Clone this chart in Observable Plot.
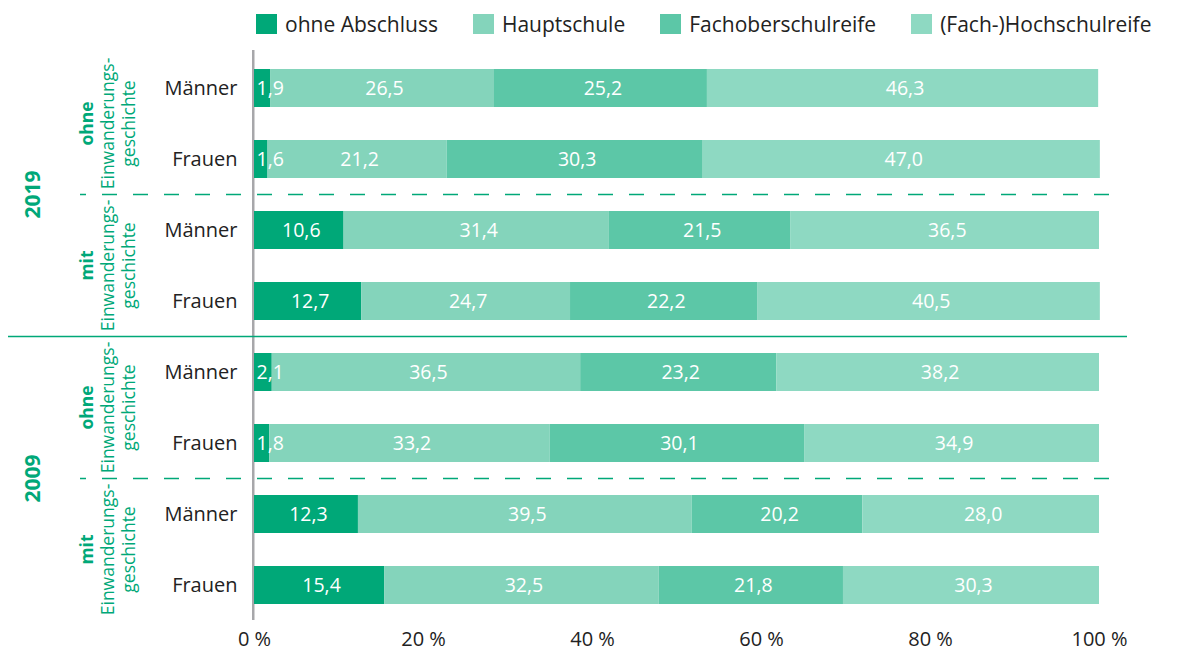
<!DOCTYPE html>
<html><head><meta charset="utf-8">
<script src="https://cdn.jsdelivr.net/npm/d3@7"></script>
<script src="https://cdn.jsdelivr.net/npm/@observablehq/plot@0.6"></script>
<style>
body{margin:0;background:#fff;font-family:"Open Sans",sans-serif;}
#legend{display:flex;align-items:center;height:48px;padding-left:256px;box-sizing:border-box;font-size:21px;color:#222;}
.item{display:flex;align-items:center;margin-right:35px;white-space:nowrap;}
.sw{width:21px;height:20px;margin-right:8px;}
#chart svg{display:block;}
</style></head><body>
<div id="legend"></div><div id="chart"></div>
<script>
const categories = ["ohne Abschluss", "Hauptschule", "Fachoberschulreife", "(Fach-)Hochschulreife"];
const colors = ["#00a878", "#84d4bb", "#5cc7a7", "#8ed9c2"];
const years = ["2019", "2019", "2019", "2019", "2009", "2009", "2009", "2009"];
const groups = ["ohne", "ohne", "mit", "mit", "ohne", "ohne", "mit", "mit"];
const sexes = ["Männer", "Frauen", "Männer", "Frauen", "Männer", "Frauen", "Männer", "Frauen"];
const ohneAbschluss = [1.9, 1.6, 10.6, 12.7, 2.1, 1.8, 12.3, 15.4];
const hauptschule = [26.5, 21.2, 31.4, 24.7, 36.5, 33.2, 39.5, 32.5];
const fachoberschulreife = [25.2, 30.3, 21.5, 22.2, 23.2, 30.1, 20.2, 21.8];
const hochschulreife = [46.3, 47.0, 36.5, 40.5, 38.2, 34.9, 28.0, 30.3];
const xTicks = [0, 20, 40, 60, 80, 100];
const groupLine2 = "Einwanderungs-";
const groupLine3 = "geschichte";

const series = [ohneAbschluss, hauptschule, fachoberschulreife, hochschulreife];
const rowKeys = years.map((y, i) => `${y}|${groups[i]}|${sexes[i]}|${i}`);
const data = [];
rowKeys.forEach((k, i) => {
  categories.forEach((c, j) => data.push({row: k, cat: c, value: series[j][i]}));
});
const fmt = v => d3.format(".1f")(v).replace(".", ",");
const small = 5;

// legend
const legend = d3.select("#legend");
categories.forEach((c, i) => {
  const it = legend.append("div").attr("class", "item");
  it.append("div").attr("class", "sw").style("background", colors[i]);
  it.append("span").text(c);
});

const plot = Plot.plot({
  width: 1178,
  height: 607,
  marginLeft: 254,
  marginRight: 79,
  marginTop: 12,
  marginBottom: 42,
  style: {fontFamily: "Open Sans, sans-serif", fontSize: "20px", color: "#222", background: "#fff", overflow: "visible"},
  x: {domain: [0, 100], ticks: xTicks, tickFormat: d => d + " %", tickSize: 0, tickPadding: 18, label: null},
  y: {domain: rowKeys, paddingInner: 0.47, paddingOuter: 0.1, tickSize: 0, tickPadding: 17, tickFormat: k => k.split("|")[2], label: null},
  color: {domain: categories, range: colors},
  marks: [
    Plot.ruleX([0], {stroke: "#a7a7aa", strokeWidth: 2.5, insetTop: -10, insetBottom: -7, dx: -1.25}),
    Plot.barX(data, Plot.stackX({x: "value", y: "row", fill: "cat"})),
    Plot.text(data, Plot.stackX({x: "value", y: "row", z: "cat", text: d => d.value >= small ? fmt(d.value) : "", fill: "white", fontSize: 19.5, dx: 2})),
    Plot.text(data, Plot.stackX1({x: "value", y: "row", z: "cat", text: d => d.value < small ? fmt(d.value) : "", fill: "white", fontSize: 19.5, textAnchor: "start", dx: 2}))
  ]
});
document.getElementById("chart").appendChild(plot);

// group labels and separators through the plot's scales
const ys = plot.scale("y"), xs = plot.scale("x");
const bw = ys.bandwidth;
const x0 = xs.apply(0), x100 = xs.apply(100);
const svg = d3.select(plot);
const green = "#00a878";
const g = svg.append("g");

function center(keys) {
  return (ys.apply(keys[0]) + ys.apply(keys[keys.length - 1])) / 2 + bw / 2;
}
function between(a, b) {
  return (ys.apply(a) + bw + ys.apply(b)) / 2;
}
function rotText(x, y, txt, weight, size) {
  g.append("text")
    .attr("transform", `translate(${x},${y}) rotate(-90)`)
    .attr("text-anchor", "middle")
    .attr("dy", "0.35em")
    .attr("fill", green)
    .attr("font-weight", weight)
    .attr("font-size", size)
    .attr("font-family", "Open Sans, sans-serif")
    .text(txt);
}

const yearList = Array.from(new Set(years));
yearList.forEach(yr => {
  const yKeys = rowKeys.filter((k, i) => years[i] === yr);
  rotText(x0 - 221, center(yKeys), yr, "bold", 21);
  const gList = Array.from(new Set(yKeys.map(k => k.split("|")[1])));
  gList.forEach((gr, gi) => {
    const gKeys = yKeys.filter(k => k.split("|")[1] === gr);
    const cy = center(gKeys);
    rotText(x0 - 167, cy, gr, "bold", 17.5);
    rotText(x0 - 146, cy, groupLine2, "normal", 17.5);
    rotText(x0 - 125, cy, groupLine3, "normal", 17.5);
    if (gi > 0) {
      const prev = yKeys.filter(k => k.split("|")[1] === gList[gi - 1]);
      const ly = between(prev[prev.length - 1], gKeys[0]);
      g.insert("line", ":first-child")
        .attr("x1", x0 - 174).attr("x2", x100 + 26)
        .attr("y1", ly).attr("y2", ly)
        .attr("stroke", green).attr("stroke-width", 1.5)
        .attr("stroke-dasharray", "15,16").attr("stroke-dashoffset", 9);
    }
  });
});
// solid separator between years
for (let i = 1; i < rowKeys.length; i++) {
  if (years[i] !== years[i - 1]) {
    const ly = between(rowKeys[i - 1], rowKeys[i]);
    g.append("line")
      .attr("x1", 8).attr("x2", x100 + 28)
      .attr("y1", ly).attr("y2", ly)
      .attr("stroke", green).attr("stroke-width", 1.5);
  }
}
</script>
</body></html>
